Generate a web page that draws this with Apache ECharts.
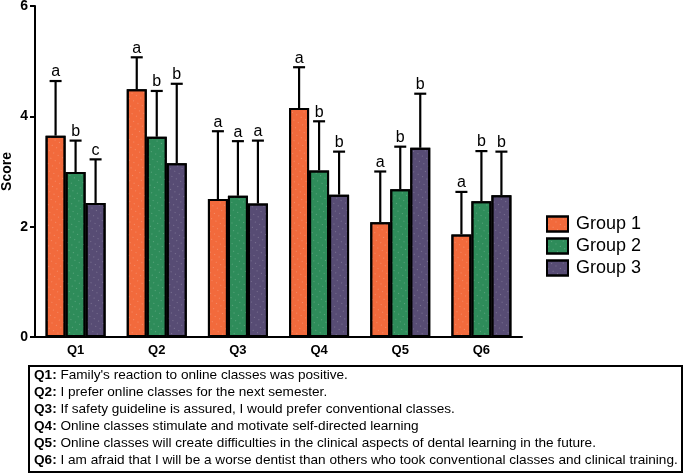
<!DOCTYPE html>
<html>
<head>
<meta charset="utf-8">
<script src="https://cdn.jsdelivr.net/npm/echarts@6/dist/echarts.min.js"></script>
<style>html,body{margin:0;padding:0;background:#fff}#c{width:685px;height:476px}</style>
</head>
<body>
<div id="c"></div>
<script>
const categories = ['Q1','Q2','Q3','Q4','Q5','Q6'];
const groupNames = ['Group 1','Group 2','Group 3'];
const group1 = [3.65, 4.49, 2.50, 4.15, 2.08, 1.86];
const group2 = [2.99, 3.63, 2.56, 3.02, 2.68, 2.46];
const group3 = [2.43, 3.15, 2.42, 2.58, 3.43, 2.57];
const sd1 = [0.99, 0.58, 1.23, 0.74, 0.92, 0.77];
const sd2 = [0.57, 0.83, 0.99, 0.89, 0.77, 0.91];
const sd3 = [0.79, 1.44, 1.14, 0.78, 0.98, 0.79];
const letters1 = ['a','a','a','a','a','a'];
const letters2 = ['b','b','a','b','b','b'];
const letters3 = ['c','b','a','b','b','b'];
const yTicks = [0, 2, 4, 6];
const notes = [
  ['Q1:', " Family's reaction to online classes was positive."],
  ['Q2:', ' I prefer online classes for the next semester.'],
  ['Q3:', ' If safety guideline is assured, I would prefer conventional classes.'],
  ['Q4:', ' Online classes stimulate and motivate self-directed learning'],
  ['Q5:', ' Online classes will create difficulties in the clinical aspects of dental learning in the future.'],
  ['Q6:', ' I am afraid that I will be a worse dentist than others who took conventional classes and clinical training.']
];

const colors = ['#F26A3C', '#2E8C5A', '#574C74'];
const groups = [group1, group2, group3];
const sds = [sd1, sd2, sd3];
const letters = [letters1, letters2, letters3];
const BAR_W = 20;
const FONT = '"Liberation Sans", Arial, sans-serif';

const chart = echarts.init(document.getElementById('c'), null, {renderer: 'canvas'});

const series = [];
groups.forEach((g, gi) => {
  series.push({
    name: groupNames[gi],
    type: 'bar',
    data: g,
    barWidth: BAR_W,
    barGap: '0%',
    itemStyle: {
      color: colors[gi], borderColor: '#000', borderWidth: 2,
      decal: {symbol: 'rect', symbolSize: 1, color: 'rgba(255,255,255,0.22)', dashArrayX: [1, 4], dashArrayY: [1, 5], rotation: 0.5}
    },
    emphasis: {disabled: true},
    z: 2
  });
});
groups.forEach((g, gi) => {
  series.push({
    type: 'custom',
    name: 'err' + gi,
    data: g.map((v, i) => [i, v, v + sds[gi][i]]),
    z: 1,
    silent: true,
    renderItem: function (params, api) {
      const ci = api.value(0);
      const base = api.coord([ci, api.value(1)]);
      const top = api.coord([ci, api.value(2)]);
      const x = base[0] + (gi - 1) * BAR_W;
      const half = 6;
      return {
        type: 'group',
        children: [
          {type: 'line', shape: {x1: x, y1: base[1], x2: x, y2: top[1]}, style: {stroke: '#000', lineWidth: 2.2}},
          {type: 'line', shape: {x1: x - half, y1: top[1], x2: x + half, y2: top[1]}, style: {stroke: '#000', lineWidth: 2.2}},
          {type: 'text', x: x, y: top[1] - 1, style: {text: letters[gi][params.dataIndex], fill: '#000', font: '16px ' + FONT, align: 'center', verticalAlign: 'bottom'}}
        ]
      };
    }
  });
});

const noteTexts = notes.map((n, i) => ({
  type: 'text',
  left: 34,
  top: 368 + i * 17,
  style: {
    text: '{b|' + n[0] + '}{r|' + n[1] + '}',
    rich: {
      b: {font: 'bold 13.6px ' + FONT, fill: '#000'},
      r: {font: '13.6px ' + FONT, fill: '#000'}
    }
  }
}));

chart.setOption({
  animation: false,
  grid: {left: 35, right: 163, top: 6, bottom: 139, containLabel: false, outerBoundsMode: 'none'},
  legend: {
    data: groupNames,
    orient: 'vertical',
    left: 541,
    top: 210,
    itemWidth: 21,
    itemHeight: 15,
    itemGap: 4,
    icon: 'rect',
    textStyle: {fontSize: 18, color: '#000', fontFamily: FONT, padding: [0, 0, 0, 3]},
    selectedMode: false
  },
  xAxis: {
    type: 'category',
    data: categories,
    axisLine: {lineStyle: {color: '#000', width: 2}},
    axisTick: {alignWithLabel: true, length: 5, lineStyle: {color: '#000', width: 2}},
    axisLabel: {color: '#000', fontWeight: 'bold', fontSize: 13, fontFamily: FONT, margin: 7}
  },
  yAxis: {
    type: 'value',
    min: yTicks[0],
    max: yTicks[yTicks.length - 1],
    interval: 2,
    name: 'Score',
    nameLocation: 'middle',
    nameGap: 21,
    nameMoveOverlap: false,
    nameTextStyle: {color: '#000', fontWeight: 'bold', fontSize: 14, fontFamily: FONT},
    splitLine: {show: false},
    axisLine: {show: true, lineStyle: {color: '#000', width: 2}},
    axisTick: {show: true, length: 5, lineStyle: {color: '#000', width: 2}},
    axisLabel: {color: '#000', fontWeight: 'bold', fontSize: 14, fontFamily: FONT, margin: 7}
  },
  graphic: [
    {type: 'rect', shape: {x: 29, y: 366, width: 653, height: 106}, style: {fill: 'none', stroke: '#000', lineWidth: 2}},
    ...noteTexts
  ],
  series: series
});
</script>
</body>
</html>
